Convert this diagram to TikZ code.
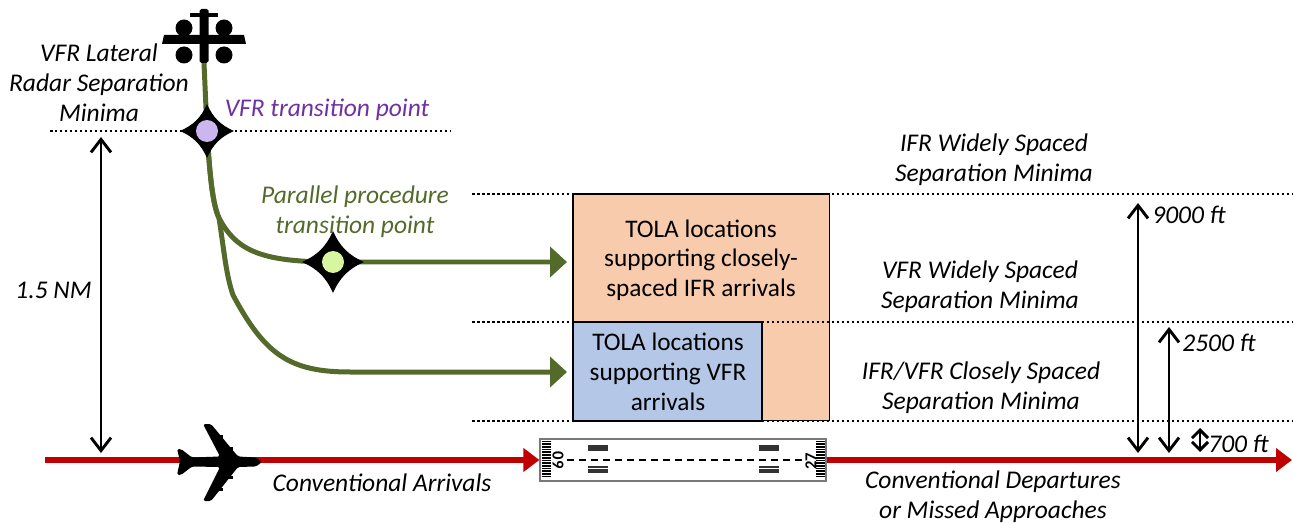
\documentclass[tikz,border=0pt]{standalone}
\usepackage{fontspec}
\setmainfont{Carlito}
\usetikzlibrary{arrows.meta,backgrounds}

\definecolor{routegreen}{RGB}{84,106,42}
\definecolor{vfrpurple}{RGB}{112,48,160}
\definecolor{vfrfill}{RGB}{204,182,240}
\definecolor{ppfill}{RGB}{216,245,160}
\definecolor{ifrorange}{RGB}{248,203,173}
\definecolor{vfrblue}{RGB}{180,199,231}
\definecolor{convred}{RGB}{192,0,0}
\definecolor{rwygray}{RGB}{120,120,120}

\tikzset{
  lbl/.style={font=\fontsize{14.5}{17.2}\selectfont\itshape, align=center, inner sep=0pt},
  boxtxt/.style={font=\fontsize{14.4}{16.9}\selectfont, align=center, inner sep=0pt},
  sepline/.style={line width=0.05cm, dash pattern=on 0.05cm off 0.05cm},
  route/.style={routegreen, line width=0.1cm, -{Triangle[length=0.34cm,width=0.6cm]}},
  conv/.style={convred, line width=0.11cm, -{Triangle[length=0.32cm,width=0.46cm]}},
  dim/.style={line width=0.058cm, {Straight Barb[length=0.26cm,width=0.4cm]}-{Straight Barb[length=0.26cm,width=0.4cm]}},
  smalldim/.style={line width=0.058cm, {Straight Barb[length=0.16cm,width=0.32cm]}-{Straight Barb[length=0.16cm,width=0.32cm]}},
  fixpt/.style={circle, draw=none, minimum size=0.44cm, inner sep=0pt},
  tola/.style={draw, line width=0.6pt, inner sep=0pt, outer sep=0pt, anchor=north west},
  rwynum/.style={font=\fontsize{9.5}{11}\selectfont\bfseries, inner sep=0pt},
}

% four-point star behind a fix
\newcommand{\fixstar}[3]{%
  \fill[shift={(#1,#2)}] (#3,0) .. controls (0.5*#3,0.22*#3) and (0.22*#3,0.5*#3) .. (0,#3)
    .. controls (-0.22*#3,0.5*#3) and (-0.5*#3,0.22*#3) .. (-#3,0)
    .. controls (-0.5*#3,-0.22*#3) and (-0.22*#3,-0.5*#3) .. (0,-#3)
    .. controls (0.22*#3,-0.5*#3) and (0.5*#3,-0.22*#3) .. cycle;}

\begin{document}
\begin{tikzpicture}[x=0.02cm, y=-0.02cm]
  \useasboundingbox (0,0) rectangle (1293,523);

  % TOLA boxes
  \node[tola, fill=ifrorange, minimum width=5.14cm, minimum height=4.54cm] (ifrbox) at (573,194) {};
  \node[tola, fill=vfrblue, minimum width=3.78cm, minimum height=1.98cm] (vfrbox) at (573,322) {};
  \node[boxtxt] (ifrtxt) at (701,260) {TOLA locations\\supporting closely-\\spaced IFR arrivals};
  \node[boxtxt] (vfrtxt) at (668,372) {TOLA locations\\supporting VFR\\arrivals};

  % separation levels
  \draw[sepline] (50,131) -- (450,131);
  \foreach \y in {194,322,421} \draw[sepline] (472,\y) -- (1293,\y);

  % runway
  \node[draw=rwygray, fill=white, line width=0.7pt, minimum width=5.72cm, minimum height=0.84cm, inner sep=0pt] (rwy) at (683,460) {};
  \foreach \y in {441.5,444.2,...,479} {
    \draw[line width=0.035cm] (542,\y) -- (551,\y);
    \draw[line width=0.035cm] (816,\y) -- (825,\y);
  }
  \draw[line width=0.05cm, dash pattern=on 0.14cm off 0.1cm] (567,460) -- (803,460);
  \foreach \x in {588,759} {
    \fill[black!80] (\x,445) rectangle (\x+20,451);
    \foreach \dy in {467,469.5,472} \draw[black!80, line width=0.04cm] (\x,\dy) -- (\x+20,\dy);
  }
  \node[rwynum, rotate=-90] (rwyw) at (558,460) {09};
  \node[rwynum, rotate=90] (rwye) at (811,461) {27};

  % conventional traffic
  \coordinate (arrin) at (45,460);
  \coordinate (depout) at (1292,460);
  \draw[conv] (arrin) -- (rwy.west);
  \draw[conv] (rwy.east) -- (depout);
  \fill[rounded corners=1pt] (262,462) -- (256,457.5) -- (238,456.5) -- (211,424) -- (203,424) -- (220,456.5)
    -- (192,457.5) -- (181,449) -- (177,449) -- (180,461) -- (177,475) -- (181,475) -- (192,466.5)
    -- (220,467) -- (203,501) -- (211,501) -- (238,467) -- (256,466.5) -- cycle;
  \foreach \ex/\ey in {217/435,227/447,227/476,217/488} \fill (\ex,\ey) rectangle (\ex+6,\ey+3);

  % VFR aircraft
  \fill[rounded corners=1pt] (199.5,9) rectangle (208.5,63);
  \fill (190,13) rectangle (218,17);
  \fill (164,35) -- (244,35) -- (246,44) -- (162,44) -- cycle;
  \foreach \cx/\cy in {184/28,224/28,184/55,224/55} \fill (\cx,\cy) circle [radius=0.17cm];
  \coordinate (heli) at (204,63);

  % fixes
  \fixstar{207}{131}{27}
  \node[fixpt, fill=vfrfill] (vfrpt) at (207,131) {};
  \fixstar{333}{262}{31}
  \node[fixpt, fill=ppfill] (ppt) at (333,262) {};
  \coordinate (ifrin) at (567,262);
  \coordinate (vfrin) at (567,372);

  \begin{pgfonlayer}{background}
    \draw[routegreen, line width=0.1cm] (heli) -- (vfrpt.center);
    \draw[route] (vfrpt.center) .. controls (210,180) and (213,205) .. (219,218)
      .. controls (236,250) and (260,262) .. (ppt.center) -- (ifrin);
    \draw[route] (vfrpt.center) .. controls (210,180) and (213,205) .. (219,218)
      .. controls (224,250) and (226,275) .. (233,295) .. controls (265,355) and (290,372) .. (350,372) -- (vfrin);
  \end{pgfonlayer}

  % labels
  \node[lbl] (vfrlat) at (99,83) {VFR Lateral\\Radar Separation\\Minima};
  \node[lbl, text=vfrpurple] (vfrname) at (327,110) {VFR transition point};
  \node[lbl, text=routegreen] (ppname) at (355,212) {Parallel procedure\\transition point};
  \node[lbl] (ifrwide) at (994,160) {IFR Widely Spaced\\Separation Minima};
  \node[lbl] (vfrwide) at (980,287) {VFR Widely Spaced\\Separation Minima};
  \node[lbl] (closely) at (981,388) {IFR/VFR Closely Spaced\\Separation Minima};
  \node[lbl] (arrlbl) at (382,483) {Conventional Arrivals};
  \node[lbl] (deplbl) at (993,497) {Conventional Departures\\or Missed Approaches};

  % spacing dimensions
  \coordinate (nmtop) at (101,137);
  \coordinate (nmbot) at (101,453);
  \draw[dim] (nmtop) -- (nmbot);
  \node[lbl, anchor=east] (nmlbl) at (92,290) {1.5 NM};
  \coordinate (ninetop) at (1138,203);
  \coordinate (ninebot) at (1138,453);
  \draw[dim] (ninetop) -- (ninebot);
  \node[lbl, anchor=west] (ninelbl) at (1152,215) {9000 ft};
  \coordinate (twotop) at (1169,327);
  \coordinate (twobot) at (1169,453);
  \draw[dim] (twotop) -- (twobot);
  \node[lbl, anchor=west] (twolbl) at (1182,343) {2500 ft};
  \coordinate (sevtop) at (1200,428);
  \coordinate (sevbot) at (1200,452);
  \draw[smalldim] (sevtop) -- (sevbot);
  \node[lbl, anchor=west] (sevlbl) at (1208,444) {700 ft};
\end{tikzpicture}
\end{document}
